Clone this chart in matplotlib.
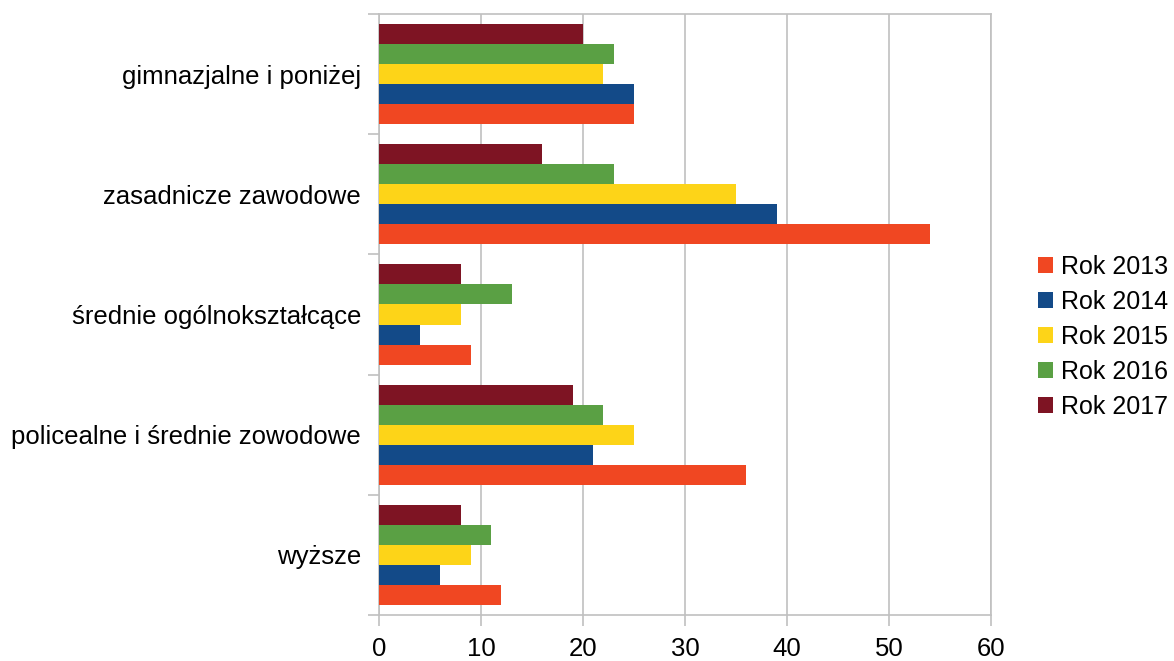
import numpy as np
import matplotlib
matplotlib.use("Agg")
import matplotlib.pyplot as plt

plt.rcParams['font.family'] = ['Liberation Sans', 'DejaVu Sans']

categories = ["gimnazjalne i poniżej", "zasadnicze zawodowe", "średnie ogólnokształcące",
              "policealne i średnie zowodowe", "wyższe"]
years = ["Rok 2013", "Rok 2014", "Rok 2015", "Rok 2016", "Rok 2017"]
rok_2013 = [25, 54, 9, 36, 12]
rok_2014 = [25, 39, 4, 21, 6]
rok_2015 = [22, 35, 8, 25, 9]
rok_2016 = [23, 23, 13, 22, 11]
rok_2017 = [20, 16, 8, 19, 8]
series = [rok_2013, rok_2014, rok_2015, rok_2016, rok_2017]
colors = ["#F04722", "#134A88", "#FDD418", "#5AA044", "#7E1423"]

fig = plt.figure(figsize=(11.74, 6.61), dpi=100)
ax = fig.add_axes([0.3228, 0.0696, 0.8441 - 0.3228, 0.9788 - 0.0696])

n = len(categories)
ypos = np.arange(n)[::-1].astype(float)
h = 1 / 6
for k, (vals, c, lab) in enumerate(zip(series, colors, years)):
    ax.barh(ypos + (k - 2) * h, vals, height=h, color=c, label=lab, zorder=3)

ax.set_xlim(0, 60)
ax.set_ylim(-0.5, n - 0.5)
ax.set_xticks(range(0, 61, 10))
ax.set_yticks(ypos)
ax.set_yticklabels(categories)
ax.set_yticks(np.arange(-0.5, n, 1), minor=True)
ax.tick_params(axis='y', which='major', length=0, pad=13, labelsize=18.5)
ax.tick_params(axis='y', which='minor', length=8, width=1.2, color='#c0c0c0', direction='out')
ax.tick_params(axis='x', length=8, width=1.2, color='#c0c0c0', labelsize=18.5, pad=8)
ax.grid(axis='x', color='#c0c0c0', linewidth=1.2, zorder=0)
for s in ['top', 'right', 'left', 'bottom']:
    ax.spines[s].set_color('#c0c0c0')
    ax.spines[s].set_linewidth(1.2)

handles, labels = ax.get_legend_handles_labels()
fig.legend(handles, labels, loc='center left', bbox_to_anchor=(0.884, 0.49),
           frameon=False, fontsize=18, handlelength=0.6, handleheight=0.6,
           handletextpad=0.32, labelspacing=0.44, borderaxespad=0, borderpad=0)

fig.savefig("out.png", dpi=100)
